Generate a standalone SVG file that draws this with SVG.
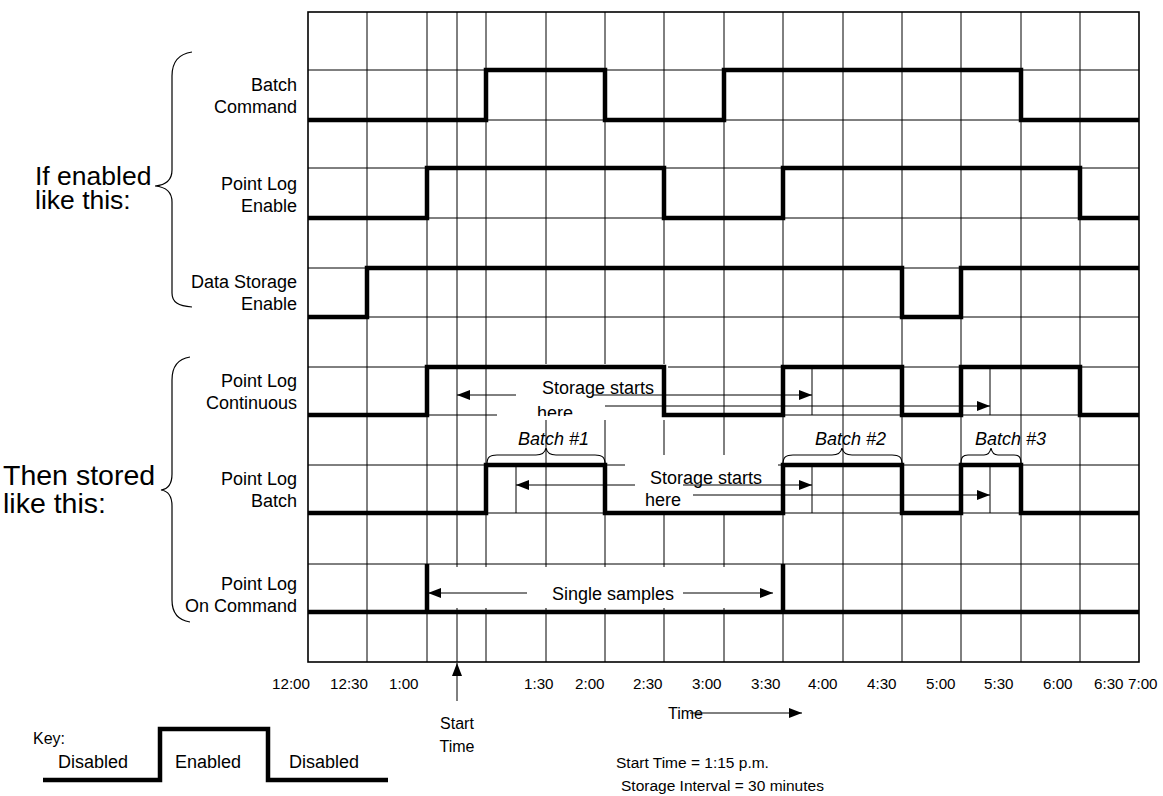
<svg xmlns="http://www.w3.org/2000/svg" width="1163" height="796" viewBox="0 0 1163 796">
<style>
.grid{stroke:#000;stroke-width:1;fill:none}
.border{stroke:#000;stroke-width:1.6;fill:none}
.sig{stroke:#000;stroke-width:4.5;fill:none;stroke-linejoin:miter;stroke-linecap:butt}
.thin{stroke:#000;stroke-width:1;fill:none}
.arr{stroke:#000;stroke-width:1;fill:none;marker-end:url(#ah)}
.brace{stroke:#000;stroke-width:1.2;fill:none}
.box{fill:#fff;stroke:none}
text{font-family:"Liberation Sans",Arial,sans-serif;fill:#000}
.lbl{font-size:18px;text-anchor:end}
.big{font-size:26.5px}
.big2{font-size:28.5px}
.note{font-size:18px}
.it{font-size:18px;font-style:italic}
.tm{font-size:15.2px}
.sm{font-size:16px}
.key{font-size:18px}
.foot{font-size:15.5px}
</style>
<defs>
<marker id="ah" markerWidth="13" markerHeight="10" refX="13" refY="5" orient="auto" markerUnits="userSpaceOnUse"><path d="M0,0 L13,5 L0,10 z" fill="#000"/></marker>
<clipPath id="clipA"><rect x="497" y="364" width="171" height="52"/></clipPath>
</defs>
<rect width="1163" height="796" fill="#fff"/>

<g id="grid">
<path class="grid" d="M367,12V662M427,12V662M457,12V662M486,12V662M546,12V662M605,12V662M664,12V662M724,12V662M783,12V662M843,12V662M902,12V662M961,12V662M1021,12V662M1080,12V662"/>
<path class="grid" d="M308,70H1139M308,120H1139M308,168H1139M308,218H1139M308,268H1139M308,317H1139M308,367H1139M308,415H1139M308,465H1139M308,513H1139M308,564H1139M308,612H1139"/>
<rect class="border" x="308" y="12" width="831" height="650"/>
</g>

<g id="text-boxes">
<rect class="box" x="497" y="364" width="171" height="56"/>
<rect class="box" x="625" y="455" width="153" height="56"/>
<rect class="box" x="432" y="567" width="344" height="41"/>
</g>

<g id="signals">
<path id="sig-batch-command" class="sig" d="M308,120H486V70H605V120H724V70H1021V120H1139"/>
<path id="sig-pl-enable" class="sig" d="M308,218H427V168H664V218H783V168H1080V218H1139"/>
<path id="sig-ds-enable" class="sig" d="M308,317H367V268H902V317H961V268H1139"/>
<path id="sig-pl-continuous" class="sig" d="M308,415H427V367H664V415H783V367H902V415H961V367H1080V415H1139"/>
<path id="sig-pl-batch" class="sig" d="M308,513H486V465H605V513H783V465H902V513H961V465H1021V513H1139"/>
<path id="sig-pl-oncommand" class="sig" d="M308,612H1139M427,564V612M783,564V612"/>
</g>

<g id="labels">
<text class="lbl" x="297" y="91">Batch</text>
<text class="lbl" x="297" y="113">Command</text>
<text class="lbl" x="297" y="190">Point Log</text>
<text class="lbl" x="297" y="212">Enable</text>
<text class="lbl" x="297" y="288">Data Storage</text>
<text class="lbl" x="297" y="310">Enable</text>
<text class="lbl" x="297" y="387">Point Log</text>
<text class="lbl" x="297" y="409">Continuous</text>
<text class="lbl" x="297" y="485">Point Log</text>
<text class="lbl" x="297" y="507">Batch</text>
<text class="lbl" x="297" y="590">Point Log</text>
<text class="lbl" x="297" y="612">On Command</text>
</g>

<g id="group-enabled">
<path class="brace" d="M192,52C178,54 172,62 172,76V170C172,180 166,185 155,186C166,187 172,192 172,202V293C172,302 178,306 192,307"/>
<text class="big" x="35" y="185">If enabled</text>
<text class="big" x="35" y="209">like this:</text>
</g>

<g id="group-stored">
<path class="brace" d="M190,357C177,359 172,367 172,380V474C172,484 168,489 161,490C168,491 172,496 172,506V600C172,612 177,620 190,622"/>
<text class="big2" x="3" y="485">Then stored</text>
<text class="big2" x="3" y="513">like this:</text>
</g>

<g id="batch-braces">
<path class="brace" d="M487,464C487,457 490,455 497,455H536C542,455 545,453 546,448C547,453 550,455 556,455H595C602,455 605,457 605,464"/>
<path class="brace" d="M783,464C783,457 786,455 793,455H832C838,455 841,453 842,448C843,453 846,455 852,455H892C899,455 902,457 902,464"/>
<path class="brace" d="M961,464C961,457 963,455 968,455H984C988,455 990,453 991,448C992,453 994,455 998,455H1014C1019,455 1021,457 1021,464"/>
<text class="it" x="518" y="445">Batch #1</text>
<text class="it" x="815" y="445">Batch #2</text>
<text class="it" x="975" y="445">Batch #3</text>
</g>

<g id="connectors">
<path class="thin" d="M812,367V415M990,367V415M516,465V513M812,465V513M990,465V513"/>
<line class="arr" x1="516" y1="395" x2="457" y2="395"/>
<line class="arr" x1="593" y1="395" x2="812" y2="395"/>
<line class="arr" x1="605" y1="406" x2="990" y2="406"/>
<line class="arr" x1="635" y1="485" x2="516" y2="485"/>
<line class="arr" x1="683" y1="485" x2="812" y2="485"/>
<line class="arr" x1="693" y1="495" x2="990" y2="495"/>
<line class="arr" x1="527" y1="593" x2="428" y2="593"/>
<line class="arr" x1="683" y1="593" x2="773" y2="593"/>
<line class="arr" x1="457" y1="701" x2="457" y2="663"/>
<line class="arr" x1="690" y1="713" x2="802" y2="713"/>
</g>

<g id="annotations">
<text class="note" x="542" y="394">Storage starts</text>
<text class="note" x="537" y="419" clip-path="url(#clipA)">here</text>
<text class="note" x="650" y="484">Storage starts</text>
<text class="note" x="645" y="506">here</text>
<text class="note" x="552" y="600">Single samples</text>
</g>

<g id="time-axis">
<text class="tm" x="272" y="689">12:00</text>
<text class="tm" x="330" y="689">12:30</text>
<text class="tm" x="389" y="689">1:00</text>
<text class="tm" x="524" y="689">1:30</text>
<text class="tm" x="575" y="689">2:00</text>
<text class="tm" x="633" y="689">2:30</text>
<text class="tm" x="692" y="689">3:00</text>
<text class="tm" x="751" y="689">3:30</text>
<text class="tm" x="808" y="689">4:00</text>
<text class="tm" x="867" y="689">4:30</text>
<text class="tm" x="926" y="689">5:00</text>
<text class="tm" x="984" y="689">5:30</text>
<text class="tm" x="1043" y="689">6:00</text>
<text class="tm" x="1094" y="689">6:30</text>
<text class="tm" x="1128" y="689">7:00</text>
<text class="sm" x="457" y="729" text-anchor="middle">Start</text>
<text class="sm" x="457" y="752" text-anchor="middle">Time</text>
<text class="sm" x="668" y="719">Time</text>
</g>

<g id="key">
<text class="sm" x="33" y="744">Key:</text>
<path class="sig" d="M43,780H160V729H268V780H388"/>
<text class="key" x="58" y="768">Disabled</text>
<text class="key" x="175" y="768">Enabled</text>
<text class="key" x="289" y="768">Disabled</text>
</g>

<g id="footnote">
<text class="foot" x="616" y="768">Start Time = 1:15 p.m.</text>
<text class="foot" x="621" y="791">Storage Interval = 30 minutes</text>
</g>
</svg>
